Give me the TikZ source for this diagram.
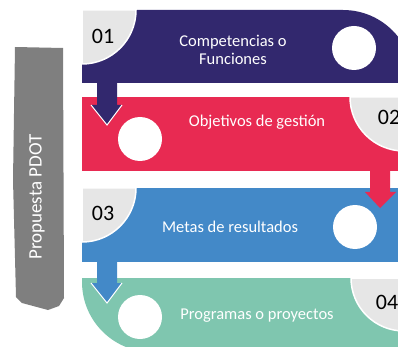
\documentclass[tikz,border=0pt]{standalone}
\usepackage{fontspec}
\setmainfont{Carlito}
\definecolor{viola}{HTML}{32286E}
\definecolor{rosso}{HTML}{E82A52}
\definecolor{azzurro}{HTML}{4389C8}
\definecolor{verde}{HTML}{7FC6AF}
\definecolor{grigiochiaro}{HTML}{E6E6E6}
\definecolor{grigioscuro}{HTML}{7F7F7F}
\begin{document}
\begin{tikzpicture}[x=1pt, y=-1pt,
    spicchio/.style={fill=grigiochiaro, draw=white, line width=1.5pt},
    numero/.style={font=\fontsize{22}{24}\selectfont, text=black},
    testo/.style={font=\fontsize{16.5}{18}\selectfont, text=white, align=center}]
      \useasboundingbox (0,0) rectangle (398,347);
      \clip (0,0) rectangle (398,347);

      % Barra laterale
      \fill[grigioscuro] (15,47) -- (63,48) -- (64,298) -- (59,306) -- (48,310) -- (22,303) -- (16,297) -- (13,180) -- cycle;
      \node[rotate=90, text=white, font=\fontsize{19}{21}\selectfont] (pdot) at (37,197) {Propuesta PDOT};

      % Fasce colorate
      \fill[viola] (82,10) -- (343,10) arc[start angle=90, end angle=0, radius=70pt] -- (413,83) -- (82,83) -- cycle;
      \fill[rosso] (82,97) rectangle (404,171);
      \fill[azzurro] (82,188) rectangle (404,262);
      \fill[verde] (82,278) -- (404,278) -- (404,352) -- (152,352) arc[start angle=270, end angle=180, radius=70pt] -- cycle;

      % Spicchi grigi con i numeri
      \filldraw[spicchio] (82,10) -- (136,10) arc[start angle=0, end angle=-90, radius=54pt] -- cycle;
      \filldraw[spicchio] (404,97) -- (350,97) arc[start angle=180, end angle=270, radius=54pt] -- cycle;
      \filldraw[spicchio] (82,188) -- (136,188) arc[start angle=0, end angle=-90, radius=54pt] -- cycle;
      \filldraw[spicchio] (404,278) -- (351,278) arc[start angle=180, end angle=270, radius=53pt] -- cycle;

      % Cerchi bianchi
      \fill[white] (354,48) circle[radius=22pt];
      \fill[white] (140,139) circle[radius=22pt];
      \fill[white] (355,227) circle[radius=22pt];
      \fill[white] (140,317) circle[radius=22pt];

      % Frecce
      \fill[viola] (97,80) -- (117,80) -- (117,105) -- (122,105) -- (107,125) -- (91,105) -- (97,105) -- cycle;
      \draw[white, line width=1pt] (91,105) -- (107,125) -- (122,105);
      \fill[rosso] (370,168) -- (390,168) -- (390,192) -- (396,192) -- (380,208) -- (365,192) -- (370,192) -- cycle;
      \fill[azzurro] (97,259) -- (117,259) -- (117,283) -- (122,283) -- (107,303) -- (91,283) -- (97,283) -- cycle;
      \draw[white, line width=1pt] (91,283) -- (107,303) -- (122,283);

      % Etichette
      \node[numero] (n01) at (103,36) {01};
      \node[numero] (n02) at (389,117) {02};
      \node[numero] (n03) at (103,213) {03};
      \node[numero] (n04) at (387,302) {04};
      \node[testo] (t1) at (233,50) {Competencias o\\Funciones};
      \node[testo] (t2) at (257,122) {Objetivos de gestión};
      \node[testo] (t3) at (230,227) {Metas de resultados};
      \node[testo] (t4) at (257,316) {Programas o proyectos};
    \end{tikzpicture}
\end{document}
